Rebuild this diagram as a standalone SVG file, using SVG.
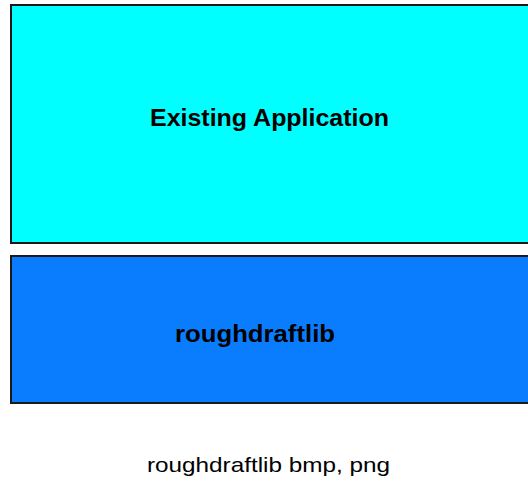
<svg xmlns="http://www.w3.org/2000/svg" width="528" height="482" viewBox="0 0 528 482">
<style>
.box{stroke:#1a1a1a;stroke-width:2}
.lbl{font-family:"Liberation Sans",Arial,sans-serif;font-weight:bold;fill:#000;text-anchor:middle}
.cap{font-family:"Liberation Sans",Arial,sans-serif;fill:#000;text-anchor:middle}
</style>
<rect width="528" height="482" fill="#fff"/>
<g id="existing-application">
<rect class="box" x="11" y="5" width="530" height="238" fill="#00ffff"/>
<text class="lbl" x="269.5" y="126" font-size="24" textLength="239" lengthAdjust="spacingAndGlyphs">Existing Application</text>
</g>
<g id="roughdraftlib">
<rect class="box" x="11" y="256" width="530" height="147" fill="#0a7dff"/>
<text class="lbl" x="255" y="342" font-size="23" textLength="160" lengthAdjust="spacingAndGlyphs">roughdraftlib</text>
</g>
<g id="connectors"></g>
<text class="cap" x="268.5" y="472" font-size="21" textLength="243" lengthAdjust="spacingAndGlyphs">roughdraftlib bmp, png</text>
</svg>
